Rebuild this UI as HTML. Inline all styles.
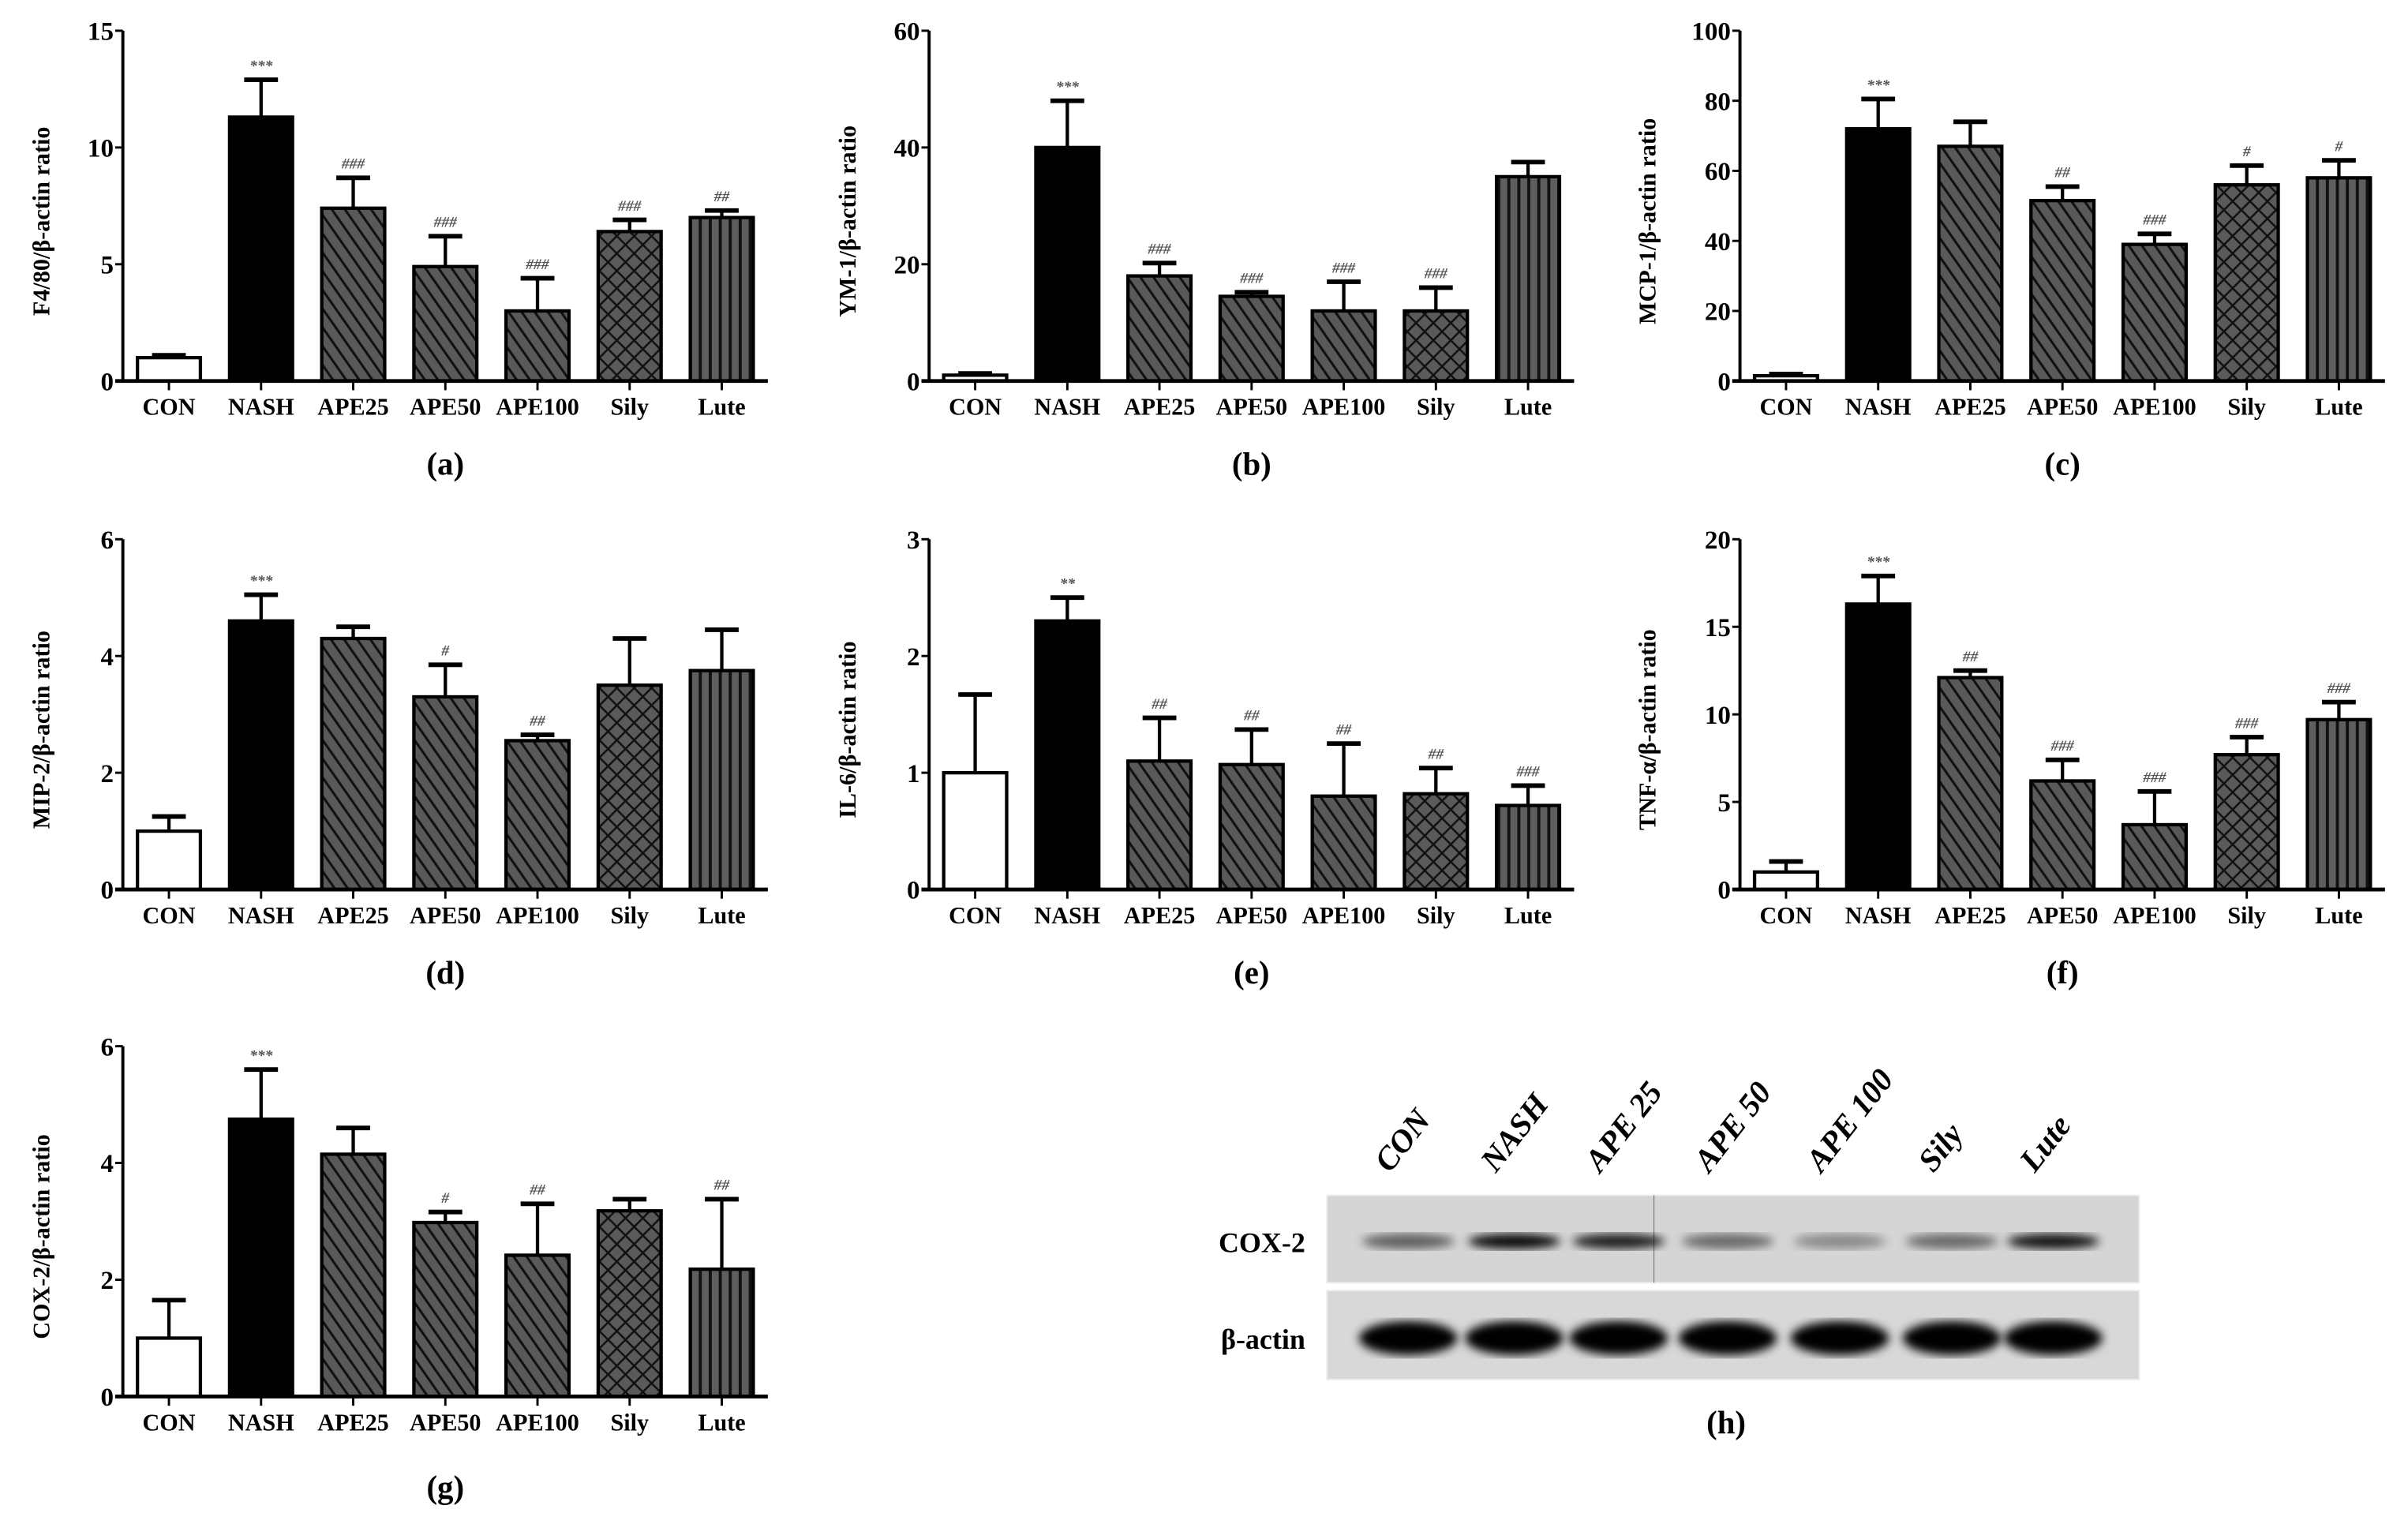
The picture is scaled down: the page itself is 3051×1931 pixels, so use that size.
<!DOCTYPE html>
<html><head><meta charset="utf-8"><style>
html,body{margin:0;padding:0;background:#fff;}
svg{display:block;}
text{font-family:"Liberation Serif",serif;font-weight:bold;fill:#000;}
</style></head><body>
<svg id="fig" width="3051" height="1931" viewBox="0 0 1568 992" preserveAspectRatio="none" xmlns="http://www.w3.org/2000/svg">
<defs>
<pattern id="pHatch" patternUnits="userSpaceOnUse" width="7" height="7" patternTransform="rotate(-35)">
<rect width="7" height="7" fill="#595959"/><rect x="0" y="0" width="1.6" height="7" fill="#111"/></pattern>
<pattern id="pCross" patternUnits="userSpaceOnUse" width="8" height="8" patternTransform="rotate(45)">
<rect width="8" height="8" fill="#5a5a5a"/><rect x="0" y="0" width="1.3" height="8" fill="#111"/><rect x="0" y="0" width="8" height="1.3" fill="#111"/></pattern>
<pattern id="pVert" patternUnits="userSpaceOnUse" width="6.5" height="10">
<rect width="6.5" height="10" fill="#5e5e5e"/><rect x="0" y="0" width="2" height="10" fill="#111"/></pattern>
<filter id="blur"><feGaussianBlur stdDeviation="3"/></filter>
</defs>
<g id="charts"></g>
<g id="blot"></g>
</svg>
<script>
const categories = ["CON","NASH","APE25","APE50","APE100","Sily","Lute"];
const fills = ["#fff","#000","url(#pHatch)","url(#pHatch)","url(#pHatch)","url(#pCross)","url(#pVert)"];

const aVals = [1.0,11.3,7.4,4.9,3.0,6.4,7.0];
const aErr  = [0.1,1.6,1.3,1.3,1.4,0.5,0.3];
const aAnn  = ["","***","###","###","###","###","##"];
const aTicks = [0,5,10,15];

const bVals = [1,40,18,14.5,12,12,35];
const bErr  = [0.3,8,2.2,0.7,5,4,2.5];
const bAnn  = ["","***","###","###","###","###",""];
const bTicks = [0,20,40,60];

const cVals = [1.5,72,67,51.5,39,56,58];
const cErr  = [0.5,8.5,7,4,3,5.5,5];
const cAnn  = ["","***","","##","###","#","#"];
const cTicks = [0,20,40,60,80,100];

const dVals = [1.0,4.6,4.3,3.3,2.55,3.5,3.75];
const dErr  = [0.25,0.45,0.2,0.55,0.1,0.8,0.7];
const dAnn  = ["","***","","#","##","",""];
const dTicks = [0,2,4,6];

const eVals = [1.0,2.3,1.1,1.07,0.8,0.82,0.72];
const eErr  = [0.67,0.2,0.37,0.3,0.45,0.22,0.17];
const eAnn  = ["","**","##","##","##","##","###"];
const eTicks = [0,1,2,3];

const fVals = [1.0,16.3,12.1,6.2,3.7,7.7,9.7];
const fErr  = [0.6,1.6,0.4,1.2,1.9,1.0,1.0];
const fAnn  = ["","***","##","###","###","###","###"];
const fTicks = [0,5,10,15,20];

const gVals = [1.0,4.75,4.15,2.98,2.42,3.18,2.18];
const gErr  = [0.65,0.85,0.45,0.18,0.88,0.2,1.2];
const gAnn  = ["","***","","#","##","","##"];
const gTicks = [0,2,4,6];

const blotLanes = ["CON","NASH","APE 25","APE 50","APE 100","Sily","Lute"];
const coxIntensity = [0.55,0.95,0.85,0.5,0.35,0.5,0.9];
const actinIntensity = [1,1,1,1,1,1,1];

const NS="http://www.w3.org/2000/svg";
function mk(tag,attrs,parent){const e=document.createElementNS(NS,tag);for(const k in attrs)e.setAttribute(k,attrs[k]);if(parent)parent.appendChild(e);return e;}

const panels = [
 {id:"a",title:"F4/80/β-actin ratio",vals:aVals,err:aErr,ann:aAnn,ticks:aTicks,ax:80,zero:248,top:20,tx:32,lx:290,ly:309},
 {id:"b",title:"YM-1/β-actin ratio",vals:bVals,err:bErr,ann:bAnn,ticks:bTicks,ax:605,zero:248,top:20,tx:557,lx:815,ly:309},
 {id:"c",title:"MCP-1/β-actin ratio",vals:cVals,err:cErr,ann:cAnn,ticks:cTicks,ax:1133,zero:248,top:20,tx:1078,lx:1343,ly:309},
 {id:"d",title:"MIP-2/β-actin ratio",vals:dVals,err:dErr,ann:dAnn,ticks:dTicks,ax:80,zero:579,top:351,tx:32,lx:290,ly:640},
 {id:"e",title:"IL-6/β-actin ratio",vals:eVals,err:eErr,ann:eAnn,ticks:eTicks,ax:605,zero:579,top:351,tx:557,lx:815,ly:640},
 {id:"f",title:"TNF-α/β-actin ratio",vals:fVals,err:fErr,ann:fAnn,ticks:fTicks,ax:1133,zero:579,top:351,tx:1078,lx:1343,ly:640},
 {id:"g",title:"COX-2/β-actin ratio",vals:gVals,err:gErr,ann:gAnn,ticks:gTicks,ax:80,zero:909,top:681,tx:32,lx:290,ly:975}
];

const root=document.getElementById('charts');
panels.forEach(p=>{
  const g=mk('g',{},root);
  
  
  const max=p.ticks[p.ticks.length-1];
  const y=v=>p.zero-(v/max)*(p.zero-p.top);
  const xc=i=>p.ax+30+i*60;
  const bw=41;
  p.vals.forEach((v,i)=>{
    const x=xc(i);
    const top=y(v+p.err[i]);
    const el=mk('line',{x1:x,x2:x,y1:y(v),y2:top,stroke:'#000','stroke-width':2.2},g);
    
    
    const cap=mk('line',{x1:x-11,x2:x+11,y1:top,y2:top,stroke:'#000','stroke-width':3},g);
    
    
    const r=mk('rect',{x:x-bw/2,y:y(v),width:bw,height:p.zero-y(v),fill:fills[i],stroke:'#000','stroke-width':2.2},g);
    
    
    if(p.ann[i]){
      const t=mk('text',{x:x,y:top-6,'text-anchor':'middle','font-size':10,style:'fill:#555;font-style:italic'},g);
      t.textContent=p.ann[i];
      
      
    }
    const tk=mk('line',{x1:x,x2:x,y1:p.zero,y2:p.zero+6,stroke:'#000','stroke-width':1.5},g);
    
    
    const lb=mk('text',{x:x,y:p.zero+22,'text-anchor':'middle','font-size':15.5,textLength:'',style:''},g);
    lb.removeAttribute('textLength');
    lb.textContent=categories[i];
    
    
  });
  const ya=mk('line',{x1:p.ax,x2:p.ax,y1:p.top,y2:p.zero,stroke:'#000','stroke-width':2},g);
  
  
  const xa=mk('line',{x1:p.ax-5,x2:xc(6)+30,y1:p.zero,y2:p.zero,stroke:'#000','stroke-width':2.5},g);
  
  
  p.ticks.forEach(t=>{
    const tl=mk('line',{x1:p.ax-5,x2:p.ax,y1:y(t),y2:y(t),stroke:'#000','stroke-width':1.5},g);
    
    
    const tt=mk('text',{x:p.ax-6,y:y(t)+6,'text-anchor':'end','font-size':17},g);
    tt.textContent=t;
    
    
  });
  const cy=(p.top+p.zero)/2+10;
  const ttl=mk('text',{x:p.tx,y:cy,'text-anchor':'middle','font-size':15.5,transform:`rotate(-90 ${p.tx} ${cy})`},g);
  ttl.textContent=p.title;
  
  
  const pl=mk('text',{x:p.lx,y:p.ly,'text-anchor':'middle','font-size':21},g);
  pl.textContent='('+p.id+')';
  
  
});

const bl=document.getElementById('blot');
const laneX=[917,986,1054,1125,1198,1271,1337];
const box1=mk('rect',{x:864,y:778,width:529,height:57,fill:'#d5d5d5',stroke:'#eee','stroke-width':1},bl);


const box2=mk('rect',{x:864,y:840,width:529,height:58,fill:'#d8d8d8',stroke:'#eee','stroke-width':1},bl);


mk('line',{x1:1077,x2:1077,y1:778,y2:835,stroke:'#777','stroke-width':0.6},bl);
blotLanes.forEach((l,i)=>{
  const x=laneX[i];
  const c=mk('ellipse',{cx:x,cy:808,rx:30,ry:5,fill:'#000','fill-opacity':coxIntensity[i],filter:'url(#blur)'},bl);
  
  
  const a=mk('ellipse',{cx:x,cy:871,rx:32,ry:11*actinIntensity[i],fill:'#000',filter:'url(#blur)'},bl);
  
  
  const t=mk('text',{x:x-12,y:764,'font-size':21,style:'font-style:italic',transform:`rotate(-52 ${x-12} 764)`},bl);
  t.textContent=l;
  
  
});
const t1=mk('text',{x:850,y:815,'text-anchor':'end','font-size':18.5},bl);
t1.textContent='COX-2';


const t2=mk('text',{x:850,y:878,'text-anchor':'end','font-size':18.5},bl);
t2.textContent='β-actin';


const th=mk('text',{x:1124,y:933,'text-anchor':'middle','font-size':21},bl);
th.textContent='(h)';


</script>
</body></html>
